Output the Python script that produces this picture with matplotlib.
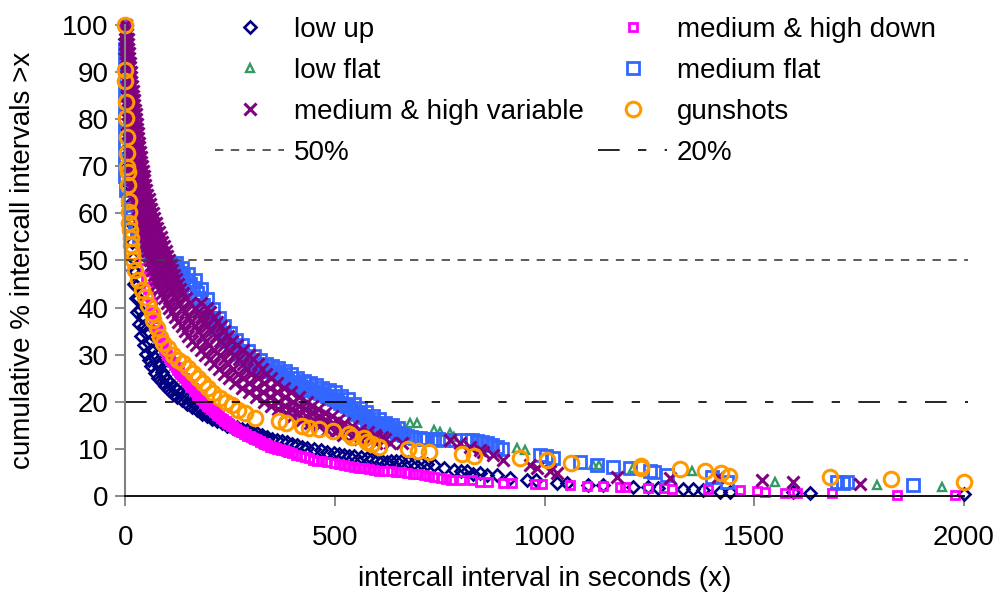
import matplotlib
matplotlib.use("Agg")
import matplotlib.pyplot as plt

plt.rcParams['font.family'] = ['Liberation Sans', 'DejaVu Sans']

# ---------------- data ----------------
low_up_x = [0, 0, 0, 1, 2, 3, 4, 5, 7, 9, 11, 13, 16, 19, 22, 26, 30, 35, 40, 45, 50, 56, 62, 68, 74, 80,
            86, 92, 99, 107, 115, 123, 133, 143, 153, 163, 171, 179, 189, 199, 209, 219, 231, 243, 255, 267,
            279, 291, 303, 314, 326, 338, 350, 362, 374, 386, 398, 410, 422, 434, 450, 466, 482, 498, 510,
            521, 533, 545, 561, 577, 589, 601, 613, 625, 633, 645, 657, 673, 689, 705, 720, 736, 760, 784,
            800, 816, 830, 846, 862, 886, 918, 957, 979, 1029, 1053, 1104, 1140, 1212, 1246, 1271, 1331,
            1355, 1379, 1419, 1443, 1594, 1634, 2000,
            18, 21, 24, 28, 32, 37, 43, 49, 55, 62, 70, 78, 86, 95, 104, 114, 124, 135, 146, 158, 170, 182,
            194, 206, 218, 230, 243, 256, 269, 282, 296, 310, 324, 338]
low_up_y = [100, 97, 94, 90, 86, 82, 78, 74, 70, 66, 62, 58, 54, 50.5, 47.5, 44.5, 42, 39.5, 38, 36, 34.5,
            32.4, 31, 29.6, 28.5, 27.5, 26.4, 25.4, 24.6, 23.9, 23.2, 22.5, 21.8, 21.1, 20.4, 19.7, 19.0,
            18.5, 18.0, 17.5, 17.0, 16.5, 16.0, 15.5, 15.0, 14.7, 14.3, 14.0, 13.6, 13.3, 12.9, 12.6, 12.2,
            11.9, 11.7, 11.5, 11.1, 10.8, 10.4, 10.1, 9.9, 9.8, 9.4, 9.1, 8.9, 8.7, 8.5, 8.4, 8.2, 8.0, 7.8,
            7.6, 7.4, 7.3, 7.5, 7.5, 7.4, 7.3, 7.0, 6.9, 6.7, 6.6, 6.0, 5.5, 5.3, 5.2, 4.6, 4.8, 4.5, 4.5,
            3.8, 3.4, 3.4, 2.7, 2.7, 2.3, 2.3, 2.0, 2.0, 1.6, 1.4, 1.4, 1.3, 0.8, 0.8, 0.8, 0.6, 0.4,
            48, 45, 42, 39, 36.5, 34, 32, 30.2, 28.8, 27.5, 26.2, 25.1, 24.2, 23.3, 22.5, 21.7, 21, 20.3,
            19.6, 18.9, 18.2, 17.5, 16.9, 16.4, 15.9, 15.4, 14.9, 14.4, 14.0, 13.6, 13.2, 12.8, 12.4, 12.0]

med_high_down_x = [0, 1, 2, 4, 6, 8, 11, 14, 18, 22, 27, 32, 36, 39, 42, 46, 50, 54, 58, 63, 68, 74, 80,
                   86, 92, 99, 107, 115, 123, 131, 139, 147, 155, 163, 171, 179, 187, 195, 203, 211, 219,
                   227, 235, 243, 251, 259, 267, 275, 283, 291, 299, 307, 314, 322, 330, 338, 346, 354, 362,
                   372, 382, 390, 398, 408, 418, 428, 438, 448, 458, 470, 482, 498, 510, 521, 533, 545, 557,
                   569, 581, 593, 605, 617, 633, 645, 657, 671, 685, 699, 713, 725, 736, 752, 764, 776, 800,
                   826, 846, 866, 902, 922, 977, 993, 1061, 1101, 1140, 1180, 1192, 1248, 1284, 1304, 1391,
                   1467, 1506, 1526, 1574, 1602, 1685, 1841, 1980,
                   60, 66, 72, 78, 84, 90, 97, 104, 112, 120, 128, 136, 144, 152, 160, 168, 176, 184, 192,
                   200, 208, 216, 224, 232, 240, 248, 256, 264, 272, 280, 288, 296, 304, 312, 320, 328, 336,
                   344, 352, 360, 368, 378, 388]
med_high_down_y = [100, 96, 92, 88, 84, 80, 76, 72, 68, 65, 62, 59, 56, 53.5, 51, 48.5, 46, 44, 42.5,
                   40.5, 38.1, 36, 33.9, 32.4, 31.0, 30, 28.9, 27.8, 26.8, 25.9, 25.0, 24.1, 23.2, 22.3,
                   21.4, 20.6, 19.8, 19.1, 18.5, 17.9, 17.3, 16.6, 16.0, 15.4, 14.9, 14.4, 14.0, 13.6, 13.2,
                   12.8, 12.5, 12.1, 11.8, 11.4, 11.1, 10.8, 10.5, 10.2, 10.0, 9.8, 9.6, 9.3, 9.1, 8.8, 8.5,
                   8.2, 8.0, 7.7, 7.5, 7.4, 7.3, 6.9, 6.7, 6.6, 6.4, 6.2, 6.0, 5.9, 5.7, 5.5, 5.4, 5.4, 5.2,
                   5.1, 5.0, 4.8, 4.7, 4.6, 4.5, 4.3, 4.1, 3.8, 3.6, 3.4, 3.4, 3.4, 3.0, 3.0, 2.7, 2.7, 2.5,
                   2.5, 2.3, 2.1, 2.1, 2.0, 2.0, 1.8, 1.6, 1.4, 1.4, 1.3, 1.1, 0.9, 0.7, 0.6, 0.6, 0.2, 0.2,
                   41, 39, 37, 35, 33.5, 32, 30.8, 29.6, 28.5, 27.4, 26.4, 25.5, 24.6, 23.8, 22.9, 22.0, 21.1,
                   20.3, 19.5, 18.8, 18.2, 17.6, 17.0, 16.4, 15.9, 15.3, 14.8, 14.3, 13.9, 13.5, 13.1, 12.7,
                   12.3, 12.0, 11.6, 11.3, 11.0, 10.7, 10.4, 10.1, 9.9, 9.7, 9.4]

low_flat_x = [0, 0, 0, 1, 3, 6, 10, 15, 22, 30, 40, 50, 60, 66, 90, 110, 125, 130, 170, 190, 210, 226,
              260, 300, 340, 380, 440, 544, 679, 695, 735, 751, 774, 783, 934, 954, 1116, 1129, 1212,
              1351, 1550, 1793, 1948]
low_flat_y = [100, 97, 94, 91, 87, 82, 77, 72, 68, 64, 60, 56, 53, 49.4, 47, 45, 43, 41, 39, 37, 35,
              37.4, 32, 29, 26.5, 24.5, 19.0, 16.8, 15.4, 15.4, 14.0, 13.6, 13.3, 12.6, 10.1, 9.8, 6.6,
              6.6, 5.9, 5.2, 3.0, 2.3, 2.0]

med_flat_x = [0, 0, 0, 0, 0, 0, 0, 0, 0, 0, 2, 5, 10, 16, 22, 27, 33, 39, 45, 51, 58, 66, 74, 82, 90, 98,
              106, 115, 122, 130, 138, 147, 154, 161, 170, 178, 185, 193, 202, 211, 218, 227, 235, 243, 252,
              260, 268, 275, 283, 291, 299, 306, 313, 322, 330, 337, 345, 354, 361, 369, 376, 385, 393, 402,
              410, 416, 426, 432, 440, 450, 458, 464, 474, 480, 488, 498, 505, 513, 521, 529, 536, 545, 553,
              560, 569, 576, 585, 593, 600, 609, 616, 623, 633, 640, 647, 657, 664, 671, 681, 690, 703, 712,
              720, 735, 746, 758, 786, 814, 826, 838, 850, 862, 874, 886, 898, 989, 1003, 1021, 1085, 1125,
              1164, 1204, 1252, 1260, 1292, 1399, 1435, 1697, 1713, 1721, 1880,
              120, 135, 150, 165, 180, 195, 208, 222, 236, 250, 264, 278, 292, 306, 320, 335, 350, 365, 380,
              395, 410, 425, 440, 455, 470, 485, 500, 515, 530, 545, 560, 575, 590, 605, 620, 635, 650]
med_flat_y = [95, 92, 89, 86, 83, 80, 77, 74, 71, 68, 65, 63, 61, 59.3, 57.8, 56.5, 55.3, 54.2, 53.4,
              52.6, 52, 51.3, 50.8, 50.3, 49.9, 49.6, 49.2, 48.6, 48.0, 47.4, 46.6, 45.6, 45.0, 44.2, 43.1,
              42, 40.6, 39.4, 37.8, 36.6, 35.5, 34.5, 33.6, 32.8, 32.2, 31.5, 30.8, 30.2, 29.4, 28.8, 28.2,
              27.8, 27.4, 27.1, 26.9, 26.8, 26.6, 26.4, 26.1, 25.7, 25.3, 24.6, 24.2, 24.0, 23.7, 23.4,
              23.1, 22.9, 22.6, 22.3, 22.0, 21.8, 21.4, 21.2, 20.9, 20.6, 20.1, 19.7, 19.3, 19.0, 18.5,
              18.1, 17.6, 17.3, 16.7, 16.1, 15.8, 15.5, 15.3, 14.9, 14.7, 14.6, 14.1, 13.7, 13.4, 13.2,
              12.9, 12.7, 12.5, 12.4, 12.3, 12.2, 12.1, 12.1, 12.0, 11.9, 11.9, 11.9, 11.8, 11.6, 11.4,
              11.2, 10.9, 10.5, 9.9, 8.7, 8.4, 8.0, 7.3, 6.6, 6.2, 5.9, 5.2, 5.0, 4.5, 4.1, 3.0, 3.0, 2.7,
              3.0, 2.3,
              49.5, 48.5, 47.2, 45.8, 44, 41.8, 39.8, 37.8, 36, 34.5, 33.2, 32, 30.8, 29.7, 28.8, 28.1,
              27.6, 27.2, 26.6, 25.8, 25.0, 24.4, 24.0, 23.5, 23.0, 22.5, 22.0, 21.3, 20.5, 19.6, 18.7,
              17.8, 17.0, 16.3, 15.6, 15.0, 14.4]

# medium & high variable: points read across the width of the dense band, level by level
med_high_var_x = [0, 2, 1, 3, 0, 4, 0, 3, 5, 0, 6, 0, 4, 7, 1, 8, 1, 6, 9, 2, 10, 2, 7, 11, 2, 12,
                  3, 8, 13, 3, 8, 14, 3, 9, 15, 4, 10, 17, 4, 11, 18, 5, 12, 20, 5, 13, 21, 5, 14, 23,
                  5, 15, 24, 6, 16, 26, 6, 16, 27, 7, 17, 28, 7, 18, 29, 8, 19, 31, 8, 20, 32, 9, 21, 33,
                  9, 22, 35, 10, 23, 36, 11, 24, 38, 12, 26, 40, 13, 27, 41, 14, 29, 43, 15, 30, 45,
                  16, 32, 47, 18, 34, 50, 20, 36, 52, 22, 39, 55, 25, 42, 58, 27, 45, 62, 30, 48, 66,
                  32, 51, 69, 35, 54, 72, 38, 57, 76, 42, 61, 80, 44, 64, 84, 47, 67, 88, 50, 70, 92,
                  52, 74, 96, 55, 77, 100, 58, 80, 104, 61, 84, 108, 64, 88, 112, 68, 92, 116,
                  72, 96, 120, 76, 100, 125, 80, 104, 130, 86, 111, 138, 92, 118, 145,
                  98, 126, 155, 180, 105, 135, 165, 195, 111, 142, 172, 202, 118, 150, 180, 210,
                  126, 157, 188, 219, 135, 165, 195, 228, 142, 173, 205, 236, 150, 182, 215, 245,
                  159, 191, 225, 255, 168, 200, 235, 265, 179, 212, 247, 280, 190, 225, 260, 295,
                  201, 235, 270, 305, 212, 245, 280, 315, 223, 256, 290, 325, 235, 268, 300, 335,
                  248, 281, 315, 348, 262, 295, 330, 362, 278, 311, 346, 378, 295, 328, 362, 395,
                  312, 346, 381, 413, 330, 365, 400, 432, 348, 380, 414, 446, 365, 395, 428, 460,
                  382, 412, 445, 476, 400, 430, 462, 492, 420, 449, 479, 507, 440, 468, 496, 522,
                  461, 488, 516, 541, 482, 508, 535, 560, 501, 528, 555, 578, 520, 548, 575, 595,
                  540, 569, 598, 612, 560, 590, 620, 598, 630, 660,
                  774, 798, 822, 846, 854, 878, 902, 965, 981, 1013, 1029, 1172, 1300, 1415, 1518, 1594, 1753]
med_high_var_y = [100, 100, 99, 99, 98, 98, 97, 97, 97, 96, 96, 95, 95, 95, 94, 94, 93, 93, 93, 92, 92,
                  91, 91, 91, 90, 90, 89, 89, 89, 88, 88, 88, 87, 87, 87, 86, 86, 86, 85, 85, 85, 84, 84,
                  84, 83, 83, 83, 82, 82, 82, 81, 81, 81, 80, 80, 80, 79, 79, 79, 78, 78, 78, 77, 77, 77,
                  76, 76, 76, 75, 75, 75, 74, 74, 74, 73, 73, 73, 72, 72, 72, 71, 71, 71, 70, 70, 70,
                  69, 69, 69, 68, 68, 68, 67, 67, 67, 66, 66, 66, 65, 65, 65, 64, 64, 64, 63, 63, 63,
                  62, 62, 62, 61, 61, 61, 60, 60, 60, 59, 59, 59, 58, 58, 58, 57, 57, 57, 56, 56, 56,
                  55, 55, 55, 54, 54, 54, 53, 53, 53, 52, 52, 52, 51, 51, 51, 50, 50, 50, 49, 49, 49,
                  48, 48, 48, 47, 47, 47, 46, 46, 46, 45, 45, 45, 44, 44, 44, 43, 43, 43, 42, 42, 42,
                  41, 41, 41, 41, 40, 40, 40, 40, 39, 39, 39, 39, 38, 38, 38, 38,
                  37, 37, 37, 37, 36, 36, 36, 36, 35, 35, 35, 35, 34, 34, 34, 34,
                  33, 33, 33, 33, 32, 32, 32, 32, 31, 31, 31, 31, 30, 30, 30, 30,
                  29, 29, 29, 29, 28, 28, 28, 28, 27, 27, 27, 27, 26, 26, 26, 26,
                  25, 25, 25, 25, 24, 24, 24, 24, 23, 23, 23, 23, 22, 22, 22, 22,
                  21, 21, 21, 21, 20, 20, 20, 20, 19.2, 19.2, 19.2, 19.2, 18.5, 18.5, 18.5, 18.5,
                  17.7, 17.7, 17.7, 17.7, 17, 17, 17, 17, 16.2, 16.2, 16.2, 16.2, 15.5, 15.5, 15.5, 15.5,
                  14.8, 14.8, 14.8, 14.8, 14, 14, 14, 14, 13.5, 13.5, 13.5, 13.5, 13, 13, 13, 13,
                  12.5, 12.5, 12.5, 12.5, 12, 12, 12, 11.2, 11.2, 11.2,
                  11.9, 11.2, 10.5, 9.8, 9.4, 8.7, 7.6, 6.6, 5.9, 5.2, 4.8, 4.1, 3.8, 4.1, 3.4, 3.0, 2.5]

gunshots_x = [0, 0, 0, 1, 1, 3, 3, 4, 5, 6, 8, 8, 9, 11, 12, 13, 15, 18, 23, 30, 39, 47, 54, 63, 66, 75,
              82, 90, 101, 113, 125, 137, 149, 161, 173, 185, 197, 209, 226, 241, 253, 269, 285, 310, 366,
              382, 422, 438, 462, 494, 533, 541, 569, 577, 589, 605, 673, 697, 725, 804, 832, 942, 1006,
              1062, 1229, 1229, 1322, 1383, 1421, 1440, 1681, 1827, 2000]
gunshots_y = [100, 90.4, 88.1, 83.7, 80.3, 76.2, 72.8, 69.8, 68.8, 66, 62.7, 60.4, 58, 56.5, 54.8, 53.3,
              51.9, 50.1, 48, 45.9, 43.7, 42.3, 40.6, 38.8, 37.4, 35.7, 33.8, 32.5, 31.4, 29.9, 28.9, 28.2,
              27.2, 26.1, 25.1, 24, 22.9, 21.9, 20.8, 20, 19.3, 18.3, 17.6, 16.5, 16.0, 15.6, 14.9, 14.4,
              14.2, 13.9, 13.1, 12.5, 12.3, 11.5, 11.0, 10.5, 9.9, 9.6, 9.4, 8.9, 8.4, 8.0, 7.6, 7.1, 6.4,
              5.9, 5.7, 5.3, 4.9, 4.3, 4.0, 3.5, 3.0]

ref_x = [0, 2010]
ref50_y = [50, 50]
ref20_y = [20, 20]

x_ticks = [0, 500, 1000, 1500, 2000]
y_ticks = [0, 10, 20, 30, 40, 50, 60, 70, 80, 90, 100]

# ---------------- figure ----------------
fig = plt.figure(figsize=(9.96, 5.98), dpi=100)
ax = fig.add_axes([0.126, 0.1706, 0.8415, 0.7876])

FS = 20

def pts(x, y, marker, color, ms, mew, label):
    h, = ax.plot(x, y, linestyle='none', marker=marker, mfc='none', mec=color,
                 ms=ms, mew=mew, clip_on=False, label=label)
    return h

h_lowup = pts(low_up_x, low_up_y, 'D', '#000080', 6.2, 1.9, 'low up')
h_mhd = pts(med_high_down_x, med_high_down_y, 's', '#FF00FF', 5.6, 2.0, 'medium & high down')
h_lowflat = pts(low_flat_x, low_flat_y, '^', '#339966', 6.0, 1.7, 'low flat')
h_medflat = pts(med_flat_x, med_flat_y, 's', '#3366FF', 9.0, 2.0, 'medium flat')
h_mhv = pts(med_high_var_x, med_high_var_y, 'x', '#800080', 9.0, 2.2, 'medium & high variable')
h_gun = pts(gunshots_x, gunshots_y, 'o', '#FF9900', 10.5, 2.2, 'gunshots')

h50, = ax.plot(ref_x, ref50_y, color='#404040', lw=1.2, dashes=(5, 4.5), clip_on=False, label='50%')
h20, = ax.plot(ref_x, ref20_y, color='black', lw=1.2, dashes=(13, 11, 5, 11), clip_on=False, label='20%')

ax.set_xlim(0, 2000)
ax.set_ylim(0, 100)
ax.set_xticks(x_ticks)
ax.set_yticks(y_ticks)
ax.tick_params(axis='both', labelsize=FS, color='#808080', length=7, width=1.3, direction='out')
ax.tick_params(axis='y', pad=5)
ax.tick_params(axis='x', pad=14)
for s in ('top', 'right'):
    ax.spines[s].set_visible(False)
ax.spines['left'].set_color('#808080')
ax.spines['left'].set_linewidth(1.5)
ax.spines['bottom'].set_color('black')
ax.spines['bottom'].set_linewidth(1.3)

ax.set_xlabel('intercall interval in seconds (x)', fontsize=FS, labelpad=11)
ax.set_ylabel('cumulative % intercall intervals >x', fontsize=FS, labelpad=19)

handles = [h_lowup, h_lowflat, h_mhv, h50, h_mhd, h_medflat, h_gun, h20]
fig.legend(handles=handles, labels=[h.get_label() for h in handles], ncol=2,
           loc='upper left', bbox_to_anchor=(215 / 996, 1 - 17 / 598), frameon=False,
           fontsize=FS, handlelength=2.5, handletextpad=0.35, columnspacing=0.5,
           labelspacing=0.54, borderpad=0, borderaxespad=0, numpoints=1)

fig.savefig('out.png', dpi=100)
